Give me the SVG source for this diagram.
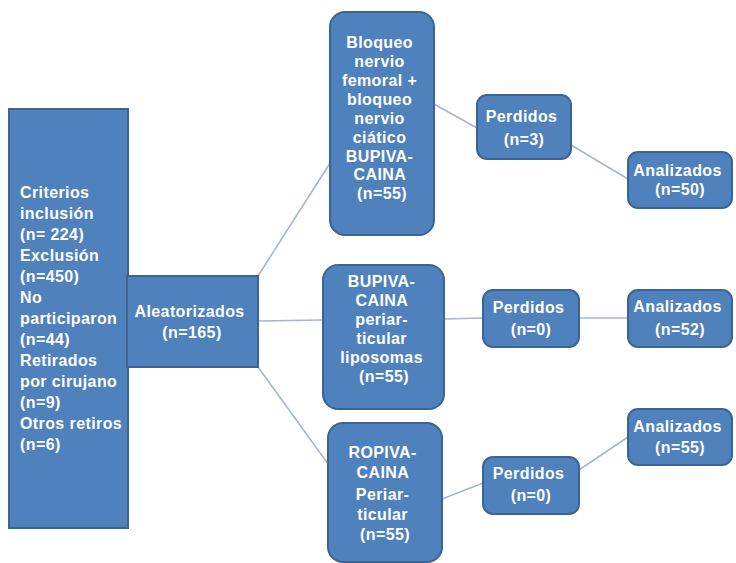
<svg xmlns="http://www.w3.org/2000/svg" width="736" height="563" viewBox="0 0 736 563">
  <style>
    .box { fill: #4F81BD; stroke: #3A6491; stroke-width: 2; }
    .lbl { font-family: "Liberation Sans", Arial, sans-serif; font-weight: bold; font-size: 16px; letter-spacing: 0.4px; fill: #FFFFFF; }
    .mid { text-anchor: middle; }
    .link { stroke: #A3B6D1; stroke-width: 1.6; fill: none; }
  </style>
  <rect width="736" height="563" fill="#FFFFFF"/>

  <!-- connectors -->
  <g id="connectors">
    <line class="link" x1="258" y1="276" x2="332" y2="160"/>
    <line class="link" x1="258" y1="321" x2="323" y2="320"/>
    <line class="link" x1="258" y1="367" x2="331" y2="468"/>
    <line class="link" x1="434" y1="104" x2="477" y2="128"/>
    <line class="link" x1="571" y1="145" x2="628" y2="179"/>
    <line class="link" x1="444" y1="319" x2="483" y2="318"/>
    <line class="link" x1="579" y1="318" x2="628" y2="318"/>
    <line class="link" x1="442" y1="499" x2="483" y2="483"/>
    <line class="link" x1="579" y1="470" x2="628" y2="437"/>
  </g>

  <!-- screening summary -->
  <g id="screening">
    <rect class="box" x="9" y="109" width="119" height="419"/>
    <text class="lbl" x="20">
      <tspan x="20" y="198">Criterios</tspan>
      <tspan x="20" y="219">inclusión</tspan>
      <tspan x="20" y="240">(n= 224)</tspan>
      <tspan x="20" y="261">Exclusión</tspan>
      <tspan x="20" y="282">(n=450)</tspan>
      <tspan x="20" y="303">No</tspan>
      <tspan x="20" y="324">participaron</tspan>
      <tspan x="20" y="345">(n=44)</tspan>
      <tspan x="20" y="366">Retirados</tspan>
      <tspan x="20" y="387">por cirujano</tspan>
      <tspan x="20" y="408">(n=9)</tspan>
      <tspan x="20" y="429">Otros retiros</tspan>
      <tspan x="20" y="450">(n=6)</tspan>
    </text>
  </g>

  <g id="randomized">
    <rect class="box" x="127" y="276" width="131" height="91"/>
    <text class="lbl mid">
      <tspan x="192" y="317">Aleatorizados</tspan>
      <tspan x="192" y="338">(n=165)</tspan>
    </text>
  </g>

  <!-- treatment arms -->
  <g id="arm-femoral">
    <rect class="box" x="330" y="12" width="104" height="223" rx="15"/>
    <text class="lbl mid">
      <tspan x="382" y="48">Bloqueo</tspan>
      <tspan x="382" y="67">nervio</tspan>
      <tspan x="382" y="86">femoral +</tspan>
      <tspan x="382" y="105">bloqueo</tspan>
      <tspan x="382" y="124">nervio</tspan>
      <tspan x="382" y="143">ciático</tspan>
      <tspan x="382" y="162">BUPIVA-</tspan>
      <tspan x="382" y="180">CAINA</tspan>
      <tspan x="382" y="199">(n=55)</tspan>
    </text>
  </g>

  <g id="arm-liposomal">
    <rect class="box" x="323" y="265" width="121" height="144" rx="15"/>
    <text class="lbl mid">
      <tspan x="384" y="287">BUPIVA-</tspan>
      <tspan x="384" y="306">CAINA</tspan>
      <tspan x="384" y="325">periar-</tspan>
      <tspan x="384" y="344">ticular</tspan>
      <tspan x="384" y="363">liposomas</tspan>
      <tspan x="384" y="382">(n=55)</tspan>
    </text>
  </g>

  <g id="arm-ropivacaine">
    <rect class="box" x="328" y="423" width="114" height="139" rx="15"/>
    <text class="lbl mid">
      <tspan x="385" y="458">ROPIVA-</tspan>
      <tspan x="385" y="478">CAINA</tspan>
      <tspan x="385" y="500">Periar-</tspan>
      <tspan x="385" y="520">ticular</tspan>
      <tspan x="385" y="540">(n=55)</tspan>
    </text>
  </g>

  <!-- follow-up -->
  <g id="lost-1">
    <rect class="box" x="477" y="95" width="94" height="64" rx="10"/>
    <text class="lbl mid">
      <tspan x="524" y="122">Perdidos</tspan>
      <tspan x="524" y="145">(n=3)</tspan>
    </text>
  </g>

  <g id="analyzed-1">
    <rect class="box" x="628" y="152" width="104" height="56" rx="10"/>
    <text class="lbl mid">
      <tspan x="680" y="176">Analizados</tspan>
      <tspan x="680" y="195">(n=50)</tspan>
    </text>
  </g>

  <g id="lost-2">
    <rect class="box" x="483" y="290" width="96" height="57" rx="10"/>
    <text class="lbl mid">
      <tspan x="531" y="313">Perdidos</tspan>
      <tspan x="531" y="335">(n=0)</tspan>
    </text>
  </g>

  <g id="analyzed-2">
    <rect class="box" x="628" y="290" width="104" height="57" rx="10"/>
    <text class="lbl mid">
      <tspan x="680" y="312">Analizados</tspan>
      <tspan x="680" y="335">(n=52)</tspan>
    </text>
  </g>

  <g id="lost-3">
    <rect class="box" x="483" y="457" width="96" height="57" rx="10"/>
    <text class="lbl mid">
      <tspan x="531" y="479">Perdidos</tspan>
      <tspan x="531" y="501">(n=0)</tspan>
    </text>
  </g>

  <g id="analyzed-3">
    <rect class="box" x="628" y="409" width="104" height="56" rx="10"/>
    <text class="lbl mid">
      <tspan x="680" y="432">Analizados</tspan>
      <tspan x="680" y="453">(n=55)</tspan>
    </text>
  </g>
</svg>
